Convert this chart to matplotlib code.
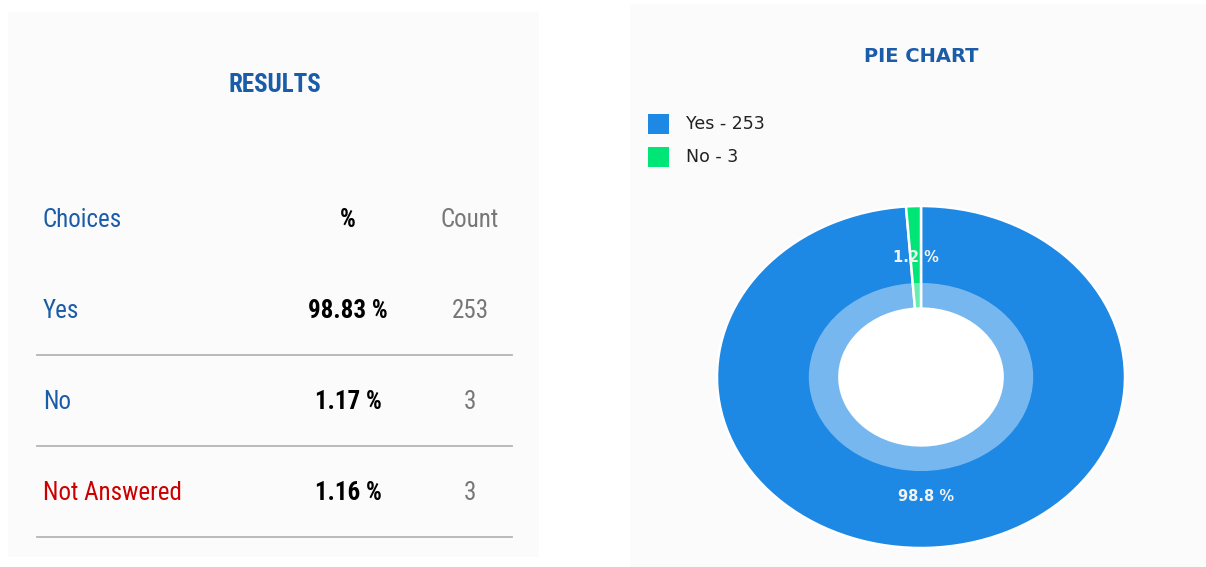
import matplotlib
matplotlib.use("Agg")
import matplotlib.pyplot as plt
from matplotlib.patches import Rectangle, Wedge, Circle
from matplotlib import font_manager as fm

# ---------------- data ----------------
choices = ["Yes", "No", "Not Answered"]
percents = ["98.83 %", "1.17 %", "1.16 %"]
counts = [253, 3, 3]
pie_labels = ["Yes", "No"]
pie_values = [253, 3]

# ---------------- styles ----------------
BLUE_TXT = "#1b5ca8"
RED_TXT = "#cc0000"
GRAY_TXT = "#777777"
PIE_COLORS = ["#1e88e5", "#00e676"]
PANEL = "#fbfbfb"

names = {f.name for f in fm.fontManager.ttflist}
narrow = None
for cand in ["Liberation Sans Narrow", "DejaVu Sans Condensed", "Roboto Condensed", "Open Sans Condensed"]:
    if cand in names:
        narrow = cand
        break
if narrow is None:
    narrow = "Liberation Sans"

W, H = 1206, 567
fig = plt.figure(figsize=(W / 100, H / 100), dpi=100)
fig.patch.set_facecolor("white")

bg = fig.add_axes([0, 0, 1, 1])
bg.set_xlim(0, W)
bg.set_ylim(H, 0)
bg.axis("off")

# panels
bg.add_patch(Rectangle((8, 12), 531, 545, facecolor=PANEL, edgecolor="none"))
bg.add_patch(Rectangle((630, 4), 576, 563, facecolor=PANEL, edgecolor="none"))

# ---------------- left: results table ----------------
bg.text(275, 85, "RESULTS", family=narrow, weight="bold", fontsize=18,
        color=BLUE_TXT, ha="center", va="center")

bg.text(43, 220, "Choices", family=narrow, fontsize=18, color=BLUE_TXT,
        ha="left", va="center")
bg.text(348, 220, "%", family=narrow, fontsize=18, weight="bold",
        color="black", ha="center", va="center")
bg.text(470, 220, "Count", family=narrow, fontsize=18, color=GRAY_TXT,
        ha="center", va="center")

row_y0, row_step = 311, 91
for i, (c, p, n) in enumerate(zip(choices, percents, counts)):
    y = row_y0 + i * row_step
    col = RED_TXT if c == "Not Answered" else BLUE_TXT
    bg.text(43, y, c, family=narrow, fontsize=18, color=col, ha="left", va="center")
    bg.text(348, y, p, family=narrow, fontsize=18, weight="bold", color="black",
            ha="center", va="center")
    bg.text(470, y, str(n), family=narrow, fontsize=18, color=GRAY_TXT,
            ha="center", va="center")
    bg.plot([37, 512], [y + 44, y + 44], color="#b5b5b5", lw=1.3)

# ---------------- right: pie chart ----------------
bg.text(921, 57, "PIE CHART", family="DejaVu Sans", weight="bold", fontsize=14,
        color=BLUE_TXT, ha="center", va="center")

for i, (lab, v) in enumerate(zip(pie_labels, pie_values)):
    y = 124 + i * 33
    bg.add_patch(Rectangle((648, y - 10), 21, 20, facecolor=PIE_COLORS[i], edgecolor="none"))
    bg.text(686, y, f"{lab} - {v}", family="DejaVu Sans", fontsize=12.5,
            color="#222222", ha="left", va="center")

cx, cy, rx, ry = 921, 377, 204, 171
ax = fig.add_axes([(cx - rx) / W, (H - (cy + ry)) / H, 2 * rx / W, 2 * ry / H])
ax.add_patch(Circle((0, 0), 0.41, facecolor="white", edgecolor="none", zorder=0))
wedges, texts, autotexts = ax.pie(
    pie_values, colors=PIE_COLORS, startangle=90, counterclock=False, radius=1.0,
    wedgeprops=dict(width=0.60, edgecolor="white", linewidth=1.8),
    autopct=lambda p: f"{p:.1f} %", pctdistance=0.70,
    textprops=dict(color="#f2f2f2", weight="bold", fontsize=10.5, family="DejaVu Sans"),
)
ax.add_patch(Wedge((0, 0), 0.55, 0, 360, width=0.15, facecolor="white",
                   alpha=0.4, linewidth=0))
ax.set_xlim(-1, 1)
ax.set_ylim(-1, 1)
ax.set_aspect("auto")
ax.axis("off")

fig.savefig("out.png", dpi=100, facecolor="white")
